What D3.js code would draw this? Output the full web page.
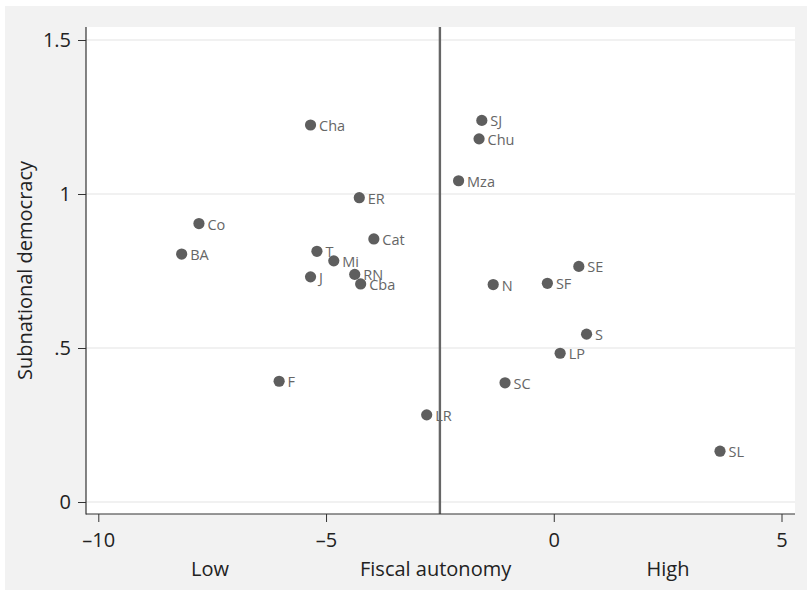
<!DOCTYPE html>
<html>
<head>
<meta charset="utf-8">
<script src="https://cdn.jsdelivr.net/npm/d3@7"></script>
<style>
  html, body { margin: 0; padding: 0; background: #ffffff; }
  svg { display: block; }
  text { font-family: "Open Sans", "Noto Sans", sans-serif; }
</style>
</head>
<body>
<svg id="chart" width="807" height="590"></svg>
<script>
// ---- data ----
const provinces = ["Cha","SJ","Chu","Mza","ER","Co","Cat","BA","T","Mi","J","RN","Cba","SE","N","SF","S","LP","F","SC","LR","SL"];
const fiscalAutonomy = [-5.34,-1.58,-1.64,-2.09,-4.27,-7.79,-3.95,-8.17,-5.20,-4.83,-5.34,-4.37,-4.24,0.55,-1.33,-0.14,0.72,0.14,-6.03,-1.07,-2.79,3.65];
const subnationalDemocracy = [1.224,1.239,1.179,1.043,0.988,0.904,0.854,0.805,0.814,0.783,0.731,0.739,0.708,0.765,0.706,0.710,0.545,0.483,0.392,0.387,0.283,0.165];
const xTicks = [-10, -5, 0, 5];
const xTickLabels = ["\u201310", "\u20135", "0", "5"];
const yTicks = [0, 0.5, 1, 1.5];
const yTickLabels = ["0", ".5", "1", "1.5"];
const referenceX = [-2.5];
const yTitle = "Subnational democracy";
const xTitleParts = ["Low", "Fiscal autonomy", "High"];

// ---- layout ----
const W = 807, H = 590;
const plot = { left: 86, right: 795, top: 27, bottom: 514 };
const svg = d3.select("#chart");

svg.append("rect").attr("x", 5).attr("y", 6).attr("width", W - 5).attr("height", H - 6).attr("fill", "#f2f2f2");
svg.append("rect").attr("x", plot.left).attr("y", plot.top)
  .attr("width", plot.right - plot.left).attr("height", plot.bottom - plot.top).attr("fill", "#ffffff");

const x = d3.scaleLinear().domain([-10, 5]).range([98.3, 781.5]);
const y = d3.scaleLinear().domain([0, 1.5]).range([502, 40]);

// gridlines
svg.append("g").selectAll("line").data(yTicks).join("line")
  .attr("x1", plot.left).attr("x2", plot.right)
  .attr("y1", d => y(d)).attr("y2", d => y(d))
  .attr("stroke", "#ececec").attr("stroke-width", 1.6);

// reference line
svg.append("g").selectAll("line").data(referenceX).join("line")
  .attr("x1", d => x(d)).attr("x2", d => x(d))
  .attr("y1", plot.top).attr("y2", plot.bottom)
  .attr("stroke", "#666666").attr("stroke-width", 2.4);

// axes
const yAxis = d3.axisLeft(y).tickValues(yTicks).tickFormat((d, i) => yTickLabels[i]).tickSize(8).tickPadding(7);
const gy = svg.append("g").attr("transform", `translate(${plot.left},0)`).call(yAxis);
gy.select(".domain").remove();
gy.selectAll(".tick line").attr("stroke", "#333");
gy.selectAll(".tick text").attr("font-size", 20).attr("fill", "#222").attr("font-family", "Open Sans");

const xAxis = d3.axisBottom(x).tickValues(xTicks).tickFormat((d, i) => xTickLabels[i]).tickSize(8).tickPadding(11);
const gx = svg.append("g").attr("transform", `translate(0,${plot.bottom})`).call(xAxis);
gx.select(".domain").remove();
gx.selectAll(".tick line").attr("stroke", "#333");
gx.selectAll(".tick text").attr("font-size", 20).attr("fill", "#222").attr("font-family", "Open Sans");

svg.append("line").attr("x1", plot.left).attr("x2", plot.left).attr("y1", plot.top).attr("y2", plot.bottom + 0.5)
  .attr("stroke", "#333").attr("stroke-width", 1.2);
svg.append("line").attr("x1", plot.left).attr("x2", plot.right).attr("y1", plot.bottom).attr("y2", plot.bottom)
  .attr("stroke", "#333").attr("stroke-width", 1.2);

// titles
svg.append("text").attr("transform", `translate(32,${(plot.top + plot.bottom) / 2}) rotate(-90)`)
  .attr("text-anchor", "middle").attr("font-size", 20).attr("fill", "#222").text(yTitle);

const cx = (plot.left + plot.right) / 2;
const titleOffsets = [-230.5, -4.9, 227.5];
svg.append("g").selectAll("text").data(xTitleParts).join("text")
  .attr("x", (d, i) => cx + titleOffsets[i]).attr("y", 576)
  .attr("text-anchor", "middle").attr("font-size", 20).attr("fill", "#222").text(d => d);

// points
const pts = provinces.map((p, i) => ({ name: p, fx: fiscalAutonomy[i], dem: subnationalDemocracy[i] }));
const g = svg.append("g");
g.selectAll("circle").data(pts).join("circle")
  .attr("cx", d => x(d.fx)).attr("cy", d => y(d.dem)).attr("r", 5.6)
  .attr("fill", "#5e5e5e");
g.selectAll("text").data(pts).join("text")
  .attr("x", d => x(d.fx) + 8.5).attr("y", d => y(d.dem) + 6)
  .attr("font-size", 14.5).attr("fill", "#666666").text(d => d.name);
</script>
</body>
</html>
